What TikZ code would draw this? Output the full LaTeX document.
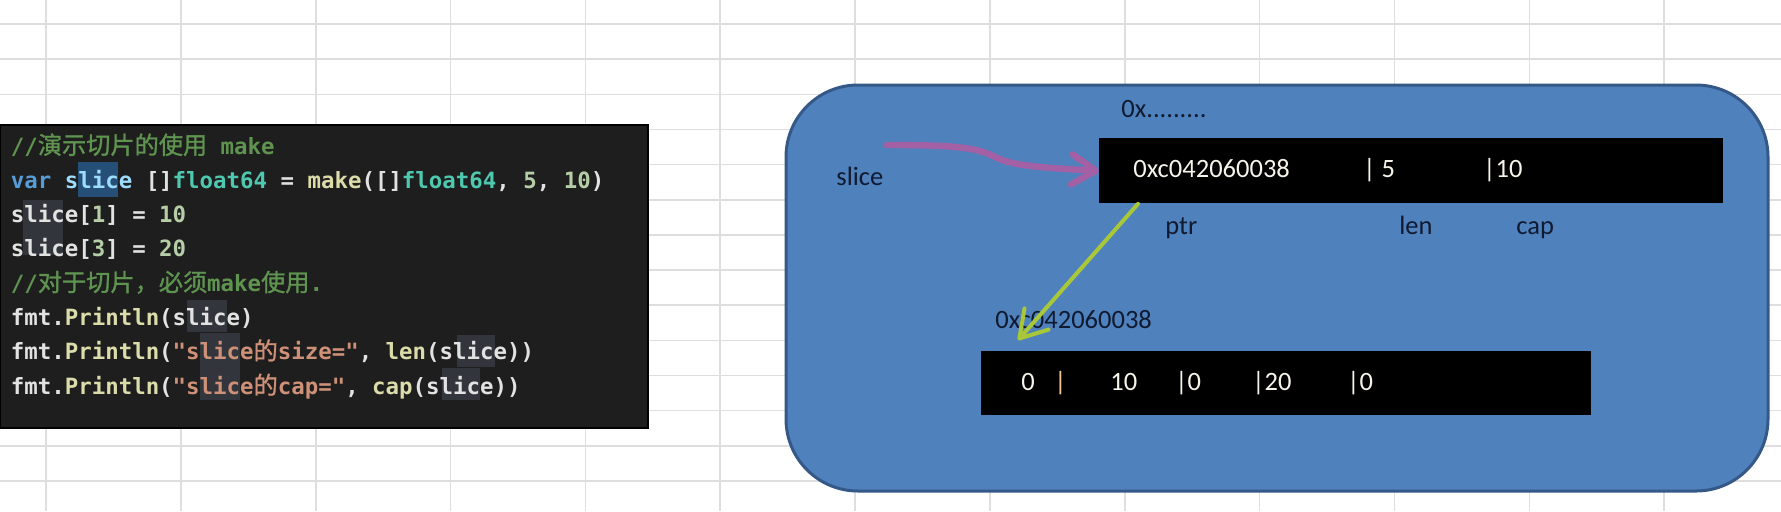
\documentclass[tikz,border=0pt]{standalone}
\usepackage{fontspec}
\setmainfont{Carlito}
\setmonofont{DejaVu Sans Mono}
\newfontfamily\cjkfam[Scale=1.08,FakeBold=1.2]{Noto Sans CJK SC}
\newcommand{\C}[1]{{\mdseries\cjkfam #1}}
\usetikzlibrary{arrows.meta}
\definecolor{gridc}{RGB}{222,222,222}
\definecolor{panelc}{RGB}{30,30,30}
\definecolor{ccom}{HTML}{5F9450}
\definecolor{ckw}{HTML}{569CD6}
\definecolor{cvar}{HTML}{9CDCFE}
\definecolor{ctype}{HTML}{4EC9B0}
\definecolor{cfn}{HTML}{DCDCAA}
\definecolor{cnum}{HTML}{B5CEA8}
\definecolor{cstr}{HTML}{CE9178}
\definecolor{ctxt}{HTML}{E2E2E2}
\definecolor{hlblue}{HTML}{264F78}
\definecolor{hlgray}{RGB}{50,54,60}
\definecolor{boxfill}{RGB}{79,129,189}
\definecolor{boxline}{RGB}{52,88,135}
\definecolor{labelc}{RGB}{16,26,48}
\definecolor{barc}{RGB}{246,243,234}
\definecolor{barorange}{RGB}{240,200,150}
\definecolor{purplec}{RGB}{163,96,165}
\definecolor{greenc}{RGB}{168,200,58}
\begin{document}
\begin{tikzpicture}[x=0.5pt,y=-0.5pt,
  gridline/.style={draw=gridc,line width=0.8pt},
  codeln/.style={font=\ttfamily\bfseries\fontsize{11.2}{13}\selectfont,text=ctxt,inner sep=0pt,anchor=base west},
  lbl/.style={font=\fontsize{13.25}{15}\selectfont,text=labelc,inner sep=0pt,anchor=base west},
  bartxt/.style={lbl,text=barc},
  blackbar/.style={fill=black,draw=none,inner sep=0pt,anchor=north west},
  purplearrow/.style={draw=purplec,line width=3.2pt,line cap=round,-{Straight Barb[length=12pt,width=15pt,round]}},
  greenarrow/.style={draw=greenc,line width=2pt,line cap=round,-{Straight Barb[length=13pt,width=16pt,round]}}]
\useasboundingbox (0,0) rectangle (1781,511);
\fill[white] (0,0) rectangle (1781,511);
% spreadsheet grid
\foreach \i in {0,...,12} \draw[gridline] ({46+134.85*\i},0) -- ({46+134.85*\i},511);
\foreach \j in {0,...,13} \draw[gridline] (0,{24+35.15*\j}) -- (1781,{24+35.15*\j});
% code panel
\path[fill=panelc,draw=black,line width=1pt] (0,125) rectangle (648,428);
\fill[hlblue] (78,162) rectangle (118,197);
\fill[hlgray] (23,200) rectangle (63,255);
\fill[hlgray] (187,300) rectangle (227,332);
\fill[hlgray] (200,333) rectangle (240,400);
\fill[hlgray] (457,335) rectangle (495,367);
\fill[hlgray] (442,368) rectangle (480,400);
\node[codeln] (l1) at (10.5,154) {\textcolor{ccom}{//\C{演示切片的使用} make}};
\node[codeln] (l2) at (10.5,188.3) {\textcolor{ckw}{var} \textcolor{cvar}{slice} []\textcolor{ctype}{float64} = \textcolor{cfn}{make}([]\textcolor{ctype}{float64}, \textcolor{cnum}{5}, \textcolor{cnum}{10})};
\node[codeln] (l3) at (10.5,222.6) {slice[\textcolor{cnum}{1}] = \textcolor{cnum}{10}};
\node[codeln] (l4) at (10.5,256.9) {slice[\textcolor{cnum}{3}] = \textcolor{cnum}{20}};
\node[codeln] (l5) at (10.5,291.2) {\textcolor{ccom}{//\C{对于切片，必须}make\C{使用}.}};
\node[codeln] (l6) at (10.5,325.5) {fmt.\textcolor{cfn}{Println}(slice)};
\node[codeln] (l7) at (10.5,359.8) {fmt.\textcolor{cfn}{Println}(\textcolor{cstr}{"slice\C{的}size="}, \textcolor{cfn}{len}(slice))};
\node[codeln] (l8) at (10.5,394.1) {fmt.\textcolor{cfn}{Println}(\textcolor{cstr}{"slice\C{的}cap="}, \textcolor{cfn}{cap}(slice))};
% memory diagram
\draw[fill=boxfill,draw=boxline,line width=1.5pt,rounded corners=36pt] (786,85) rectangle (1768,491);
\node[blackbar,minimum width=312pt,minimum height=32.5pt] (topbar) at (1099,138) {};
\node[blackbar,minimum width=305pt,minimum height=32pt] (botbar) at (981,351) {};
\node[lbl] (addrdots) at (1121,117) {0x.........};
\node[lbl] (slicelbl) at (836,185) {slice};
\node[bartxt] (ptrval) at (1133,177) {0xc042060038};
\node[bartxt] (lenval) at (1363,177) {| 5};
\node[bartxt] (capval) at (1483,177) {|10};
\node[lbl] (ptrlbl) at (1165,234) {ptr};
\node[lbl] (lenlbl) at (1399,234) {len};
\node[lbl] (caplbl) at (1516,234) {cap};
\node[lbl] (arraddr) at (995,328) {0xc042060038};
\node[bartxt] (e0) at (1021,390) {0};
\node[bartxt,text=barorange] (e0sep) at (1054,390) {|};
\node[bartxt] (e1) at (1110,390) {10};
\node[bartxt] (e2) at (1175,390) {|0};
\node[bartxt] (e3) at (1252,390) {|20};
\node[bartxt] (e4) at (1347,390) {|0};
% arrows
\coordinate (ps) at (887,145);
\draw[purplearrow] (ps) .. controls (950,145) and (975,147) .. (993,156) .. controls (1010,165) and (1030,167) .. (topbar.west);
\coordinate (gs) at ([xshift=19.5pt]topbar.south west);
\coordinate (gt) at (1018,340);
\draw[greenarrow] (gs) -- (gt);
\end{tikzpicture}
\end{document}
